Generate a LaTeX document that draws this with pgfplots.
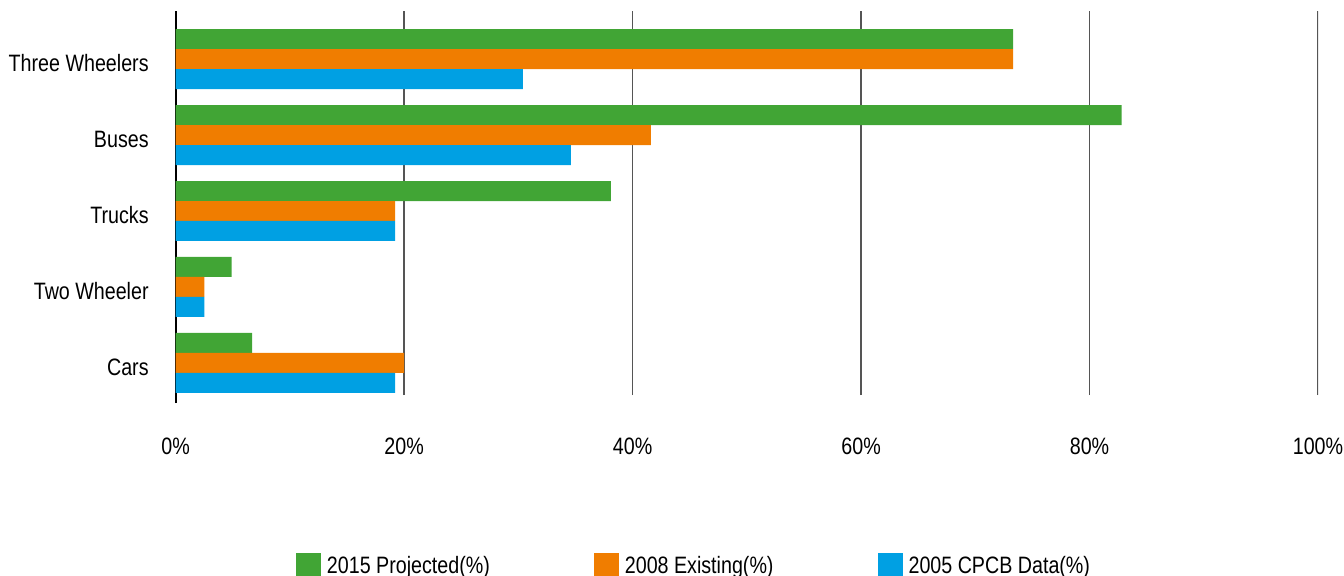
\documentclass[border=0pt]{standalone}
\usepackage{fontspec}
\setmainfont[FakeStretch=0.83]{Liberation Sans}
\usepackage{pgfplots}
\pgfplotsset{compat=1.18}

\definecolor{projgreen}{RGB}{65,165,53}
\definecolor{existorange}{RGB}{240,125,0}
\definecolor{cpcbblue}{RGB}{0,160,227}
\definecolor{gridgray}{RGB}{85,85,85}

% category order from bottom to top: Cars, Two Wheeler, Trucks, Buses, Three Wheelers
\pgfplotstableread{
idx proj exist cpcb
0   6.7  20.0  19.2
1   4.9  2.5   2.5
2   38.1 19.2  19.2
3   82.8 41.6  34.6
4   73.3 73.3  30.4
}\sharetable

\pgfplotsset{
  gridline/.style={forget plot, sharp plot, no marks, draw=gridgray, line width=0.8pt},
}

\begin{document}
\begin{tikzpicture}[font=\fontsize{11.85}{14}\selectfont]
\begin{axis}[
  name=ax,
  scale only axis,
  width=571.15pt, height=196pt,
  xmin=0, xmax=100,
  ymin=-0.528, ymax=4.633,
  xtick={0,20,...,100},
  ytick={0,1,2,3,4},
  yticklabels={Cars,Two Wheeler,Trucks,Buses,Three Wheelers},
  xticklabel={\pgfmathprintnumber{\tick}\%},
  /pgf/number format/assume math mode=true,
  major tick length=0pt,
  axis y line*=left,
  axis x line*=bottom,
  separate axis lines,
  x axis line style={draw=none},
  y axis line style={black, line width=1pt, -},
  xticklabel style={yshift=-14pt},
  yticklabel style={xshift=-10pt, yshift=-2pt},
  xbar,
  bar width=0.263,
  legend columns=3,
  legend cell align=left,
  legend image code/.code={\fill[#1] (0pt,-6.5pt) rectangle (12.5pt,6.5pt);},
  legend style={
    at={(axis description cs:0.4555,-0.38)}, anchor=north,
    draw=none, inner sep=0pt,
    nodes={inner xsep=3pt},
    /tikz/every even column/.append style={column sep=49pt},
  },
]
% vertical gridlines, drawn beneath the bars
\addplot[gridline] coordinates {(20,-0.4226) (20,4.633)};
\addplot[gridline] coordinates {(40,-0.4226) (40,4.633)};
\addplot[gridline] coordinates {(60,-0.4226) (60,4.633)};
\addplot[gridline] coordinates {(80,-0.4226) (80,4.633)};
\addplot[gridline] coordinates {(100,-0.4226) (100,4.633)};

\addplot[fill=projgreen, draw=none, bar shift=0.263] table[x=proj, y=idx] {\sharetable};
\addlegendentry{2015 Projected(\%)}
\addplot[fill=existorange, draw=none, bar shift=0] table[x=exist, y=idx] {\sharetable};
\addlegendentry{2008 Existing(\%)}
\addplot[fill=cpcbblue, draw=none, bar shift=-0.263] table[x=cpcb, y=idx] {\sharetable};
\addlegendentry{2005 CPCB Data(\%)}
\end{axis}
\pgfresetboundingbox
\path[use as bounding box]
  ([shift={(-87.85pt,-86pt)}]ax.south west) rectangle
  ([shift={(584.15pt,201.5pt)}]ax.south west);
\end{tikzpicture}
\end{document}
